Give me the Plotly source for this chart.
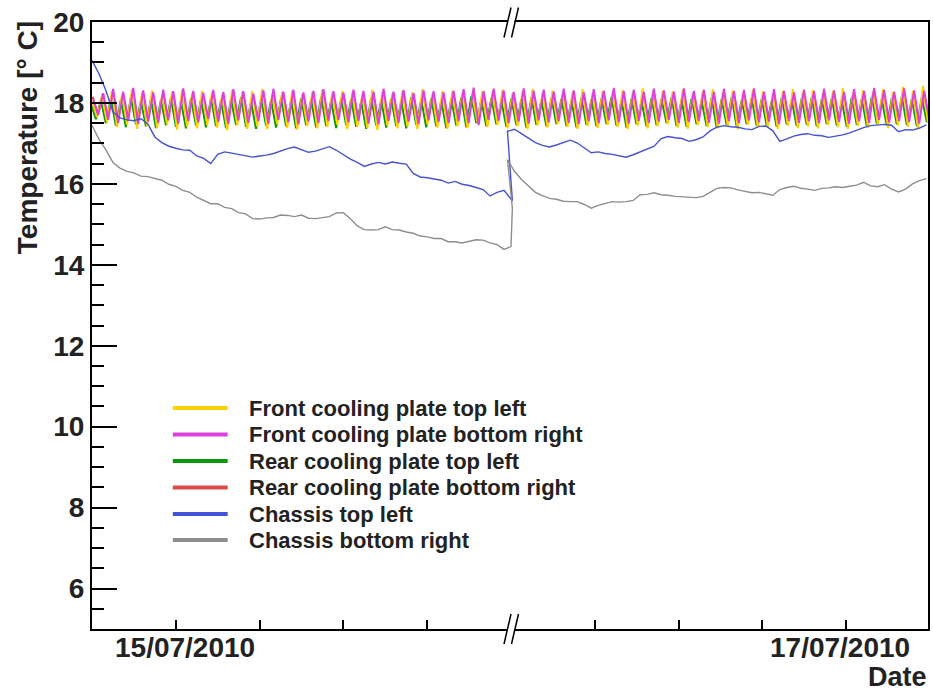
import pandas as pd
import plotly.graph_objects as go

# ---------------------------------------------------------------- data
T0 = pd.Timestamp("2010-07-14 18:00")
T_END = T0 + pd.Timedelta(hours=59.86)

# Cooling plates: one peak and one trough per cooling cycle (84 cycles)
YELLOW_PEAKS = [
    18.05, 18.18, 18.30, 18.22, 18.34, 18.26, 18.31, 18.20, 18.28, 18.33, 18.24, 18.30,
    18.27, 18.21, 18.32, 18.25, 18.29, 18.35, 18.22, 18.28, 18.31, 18.19, 18.27, 18.33,
    18.24, 18.30, 18.26, 18.21, 18.32, 18.28, 18.23, 18.30, 18.26, 18.34, 18.22, 18.29,
    18.31, 18.25, 18.18, 18.30, 18.27, 18.33, 18.24, 18.29, 18.35, 18.26, 18.31, 18.22,
    18.28, 18.34, 18.25, 18.30, 18.23, 18.32, 18.27, 18.36, 18.24, 18.30, 18.28, 18.33,
    18.21, 18.29, 18.34, 18.26, 18.31, 18.24, 18.33, 18.28, 18.22, 18.30, 18.35, 18.27,
    18.32, 18.25, 18.29, 18.36, 18.23, 18.31, 18.27, 18.34, 18.26, 18.40, 18.29, 18.42,
]
YELLOW_TROUGHS = [
    17.65, 17.52, 17.40, 17.46, 17.36, 17.43, 17.38, 17.47, 17.34, 17.41, 17.37, 17.45,
    17.39, 17.33, 17.44, 17.36, 17.42, 17.35, 17.48, 17.38, 17.34, 17.43, 17.37, 17.40,
    17.46, 17.35, 17.41, 17.38, 17.33, 17.44, 17.37, 17.42, 17.35, 17.47, 17.39, 17.36,
    17.43, 17.38, 17.52, 17.40, 17.45, 17.37, 17.42, 17.35, 17.44, 17.39, 17.47, 17.41,
    17.36, 17.43, 17.38, 17.46, 17.40, 17.35, 17.44, 17.37, 17.42, 17.48, 17.39, 17.36,
    17.45, 17.40, 17.37, 17.43, 17.35, 17.46, 17.39, 17.41, 17.36, 17.44, 17.38, 17.42,
    17.37, 17.45, 17.40, 17.36, 17.43, 17.39, 17.46, 17.38, 17.44, 17.41, 17.37, 17.50,
]
MAGENTA_PEAKS = [
    18.10, 18.24, 18.35, 18.28, 18.37, 18.31, 18.26, 18.33, 18.29, 18.36, 18.30, 18.25,
    18.32, 18.27, 18.34, 18.29, 18.23, 18.31, 18.35, 18.28, 18.33, 18.26, 18.30, 18.34,
    18.29, 18.25, 18.33, 18.30, 18.27, 18.35, 18.28, 18.32, 18.24, 18.31, 18.29, 18.26,
    18.30, 18.34, 18.38, 18.29, 18.35, 18.31, 18.27, 18.36, 18.30, 18.33, 18.28, 18.35,
    18.31, 18.26, 18.34, 18.30, 18.37, 18.29, 18.33, 18.27, 18.35, 18.31, 18.28, 18.36,
    18.30, 18.33, 18.27, 18.35, 18.29, 18.32, 18.36, 18.28, 18.34, 18.30, 18.26, 18.33,
    18.29, 18.35, 18.31, 18.27, 18.34, 18.30, 18.37, 18.32, 18.28, 18.36, 18.31, 18.30,
]
MAGENTA_TROUGHS = [
    17.70, 17.58, 17.50, 17.56, 17.48, 17.54, 17.51, 17.57, 17.49, 17.55, 17.52, 17.60,
    17.53, 17.48, 17.57, 17.51, 17.55, 17.49, 17.58, 17.52, 17.47, 17.54, 17.50, 17.56,
    17.58, 17.52, 17.55, 17.49, 17.47, 17.56, 17.51, 17.54, 17.48, 17.57, 17.53, 17.50,
    17.55, 17.50, 17.45, 17.58, 17.56, 17.50, 17.54, 17.49, 17.57, 17.52, 17.55, 17.51,
    17.48, 17.55, 17.50, 17.57, 17.52, 17.49, 17.56, 17.51, 17.54, 17.58, 17.50, 17.53,
    17.56, 17.51, 17.49, 17.55, 17.50, 17.57, 17.52, 17.54, 17.48, 17.56, 17.51, 17.55,
    17.50, 17.57, 17.53, 17.49, 17.55, 17.51, 17.58, 17.52, 17.56, 17.53, 17.49, 17.60,
]
GREEN_PEAKS = [
    17.98, 18.06, 18.12, 18.08, 18.14, 18.05, 18.10, 18.07, 18.13, 18.04, 18.11, 18.08,
    18.12, 18.06, 18.09, 18.14, 18.03, 18.10, 18.07, 18.13, 18.05, 18.11, 18.08, 18.15,
    18.06, 18.12, 18.09, 18.04, 18.13, 18.07, 18.10, 18.05, 18.14, 18.08, 18.11, 18.06,
    18.10, 18.13, 18.16, 18.08, 18.12, 18.05, 18.11, 18.09, 18.14, 18.07, 18.12, 18.10,
    18.06, 18.13, 18.08, 18.11, 18.15, 18.07, 18.10, 18.04, 18.12, 18.09, 18.14, 18.08,
    18.11, 18.06, 18.13, 18.09, 18.15, 18.07, 18.12, 18.10, 18.05, 18.13, 18.08, 18.11,
    18.14, 18.09, 18.12, 18.06, 18.13, 18.10, 18.15, 18.08, 18.12, 18.17, 18.10, 18.14,
]
GREEN_TROUGHS = [
    17.60, 17.50, 17.44, 17.40, 17.47, 17.42, 17.38, 17.45, 17.41, 17.37, 17.44, 17.40,
    17.43, 17.38, 17.46, 17.41, 17.36, 17.44, 17.39, 17.42, 17.37, 17.45, 17.40, 17.43,
    17.38, 17.45, 17.41, 17.36, 17.44, 17.39, 17.43, 17.37, 17.46, 17.40, 17.42, 17.38,
    17.44, 17.40, 17.50, 17.42, 17.47, 17.41, 17.45, 17.39, 17.46, 17.42, 17.48, 17.43,
    17.40, 17.46, 17.42, 17.48, 17.44, 17.39, 17.47, 17.42, 17.45, 17.50, 17.43, 17.41,
    17.47, 17.43, 17.40, 17.46, 17.42, 17.48, 17.44, 17.45, 17.41, 17.47, 17.43, 17.46,
    17.42, 17.48, 17.44, 17.41, 17.46, 17.43, 17.49, 17.44, 17.47, 17.45, 17.42, 17.52,
]
RED_PEAKS = [
    18.15, 18.22, 18.27, 18.20, 18.25, 18.18, 18.24, 18.21, 18.26, 18.19, 18.23, 18.20,
    18.25, 18.19, 18.23, 18.27, 18.18, 18.24, 18.21, 18.26, 18.17, 18.22, 18.20, 18.25,
    18.21, 18.26, 18.19, 18.23, 18.27, 18.20, 18.24, 18.18, 18.25, 18.22, 18.19, 18.24,
    18.22, 18.26, 18.29, 18.21, 18.25, 18.19, 18.24, 18.22, 18.27, 18.20, 18.25, 18.23,
    18.19, 18.26, 18.22, 18.24, 18.28, 18.20, 18.25, 18.18, 18.23, 18.21, 18.27, 18.22,
    18.24, 18.20, 18.26, 18.22, 18.28, 18.21, 18.25, 18.23, 18.19, 18.26, 18.22, 18.24,
    18.27, 18.22, 18.25, 18.20, 18.26, 18.23, 18.28, 18.21, 18.25, 18.30, 18.23, 18.27,
]
RED_TROUGHS = [
    17.70, 17.64, 17.58, 17.62, 17.56, 17.61, 17.59, 17.65, 17.57, 17.63, 17.60, 17.66,
    17.61, 17.57, 17.64, 17.59, 17.62, 17.56, 17.65, 17.60, 17.58, 17.63, 17.57, 17.62,
    17.65, 17.59, 17.62, 17.57, 17.55, 17.63, 17.60, 17.61, 17.56, 17.64, 17.59, 17.58,
    17.62, 17.58, 17.54, 17.65, 17.63, 17.58, 17.61, 17.57, 17.64, 17.60, 17.62, 17.59,
    17.57, 17.63, 17.59, 17.64, 17.60, 17.57, 17.63, 17.59, 17.62, 17.65, 17.58, 17.61,
    17.64, 17.59, 17.57, 17.62, 17.58, 17.64, 17.60, 17.62, 17.56, 17.63, 17.59, 17.62,
    17.58, 17.64, 17.61, 17.57, 17.62, 17.59, 17.65, 17.60, 17.63, 17.61, 17.57, 17.66,
]

# Chassis sensors, half-hourly readings; the first run ends just after 30 h,
# the second run restarts at 29.75 h after the interruption
BLUE_RUN1 = [
    19.05, 18.72, 18.30, 17.78, 17.63, 17.58, 17.56, 17.61, 17.48, 17.16,
    17.02, 16.93, 16.88, 16.84, 16.83, 16.69, 16.63, 16.50, 16.73, 16.79,
    16.76, 16.73, 16.69, 16.66, 16.69, 16.71, 16.75, 16.81, 16.87, 16.91,
    16.84, 16.78, 16.81, 16.87, 16.92, 16.83, 16.71, 16.61, 16.53, 16.43,
    16.49, 16.53, 16.49, 16.54, 16.51, 16.49, 16.26, 16.17, 16.15, 16.12,
    16.09, 16.02, 16.06, 15.99, 15.96, 15.91, 15.86, 15.70, 15.79, 15.84,
    15.62, 15.58,
]
BLUE_RUN2 = [
    17.30, 17.35, 17.24, 17.13, 17.02, 16.95, 16.91, 16.96, 17.03, 17.08,
    17.01, 16.90, 16.77, 16.79, 16.75, 16.73, 16.70, 16.66, 16.72, 16.79,
    16.85, 16.93, 17.12, 17.17, 17.14, 17.12, 17.05, 17.09, 17.16, 17.31,
    17.40, 17.44, 17.41, 17.40, 17.36, 17.34, 17.42, 17.43, 17.31, 17.05,
    17.11, 17.18, 17.22, 17.24, 17.20, 17.19, 17.15, 17.18, 17.21, 17.26,
    17.33, 17.39, 17.44, 17.45, 17.47, 17.45, 17.29, 17.34, 17.33, 17.38,
    17.46,
]
GRAY_RUN1 = [
    17.45, 17.10, 16.84, 16.53, 16.39, 16.31, 16.27, 16.19, 16.18, 16.13,
    16.09, 15.99, 15.94, 15.84, 15.79, 15.67, 15.59, 15.51, 15.51, 15.42,
    15.39, 15.29, 15.26, 15.14, 15.13, 15.16, 15.17, 15.23, 15.22, 15.19,
    15.23, 15.15, 15.14, 15.16, 15.19, 15.28, 15.29, 15.14, 14.96, 14.87,
    14.86, 14.87, 14.94, 14.87, 14.86, 14.81, 14.78, 14.71, 14.69, 14.65,
    14.65, 14.57, 14.57, 14.54, 14.58, 14.62, 14.61, 14.54, 14.50, 14.38,
    14.45, 15.40,
]
GRAY_RUN2 = [
    16.60, 16.31, 16.11, 15.96, 15.79, 15.71, 15.64, 15.62, 15.57, 15.56,
    15.56, 15.49, 15.40, 15.47, 15.51, 15.56, 15.55, 15.56, 15.59, 15.73,
    15.74, 15.78, 15.73, 15.72, 15.69, 15.68, 15.67, 15.66, 15.69, 15.80,
    15.89, 15.91, 15.90, 15.85, 15.81, 15.78, 15.79, 15.75, 15.72, 15.86,
    15.91, 15.94, 15.89, 15.87, 15.84, 15.89, 15.90, 15.93, 15.91, 15.94,
    15.97, 16.04, 15.95, 15.93, 15.98, 15.87, 15.80, 15.87, 16.00, 16.08,
    16.13,
]

SERIES_NAMES = [
    "Front cooling plate top left",
    "Front cooling plate bottom right",
    "Rear cooling plate top left",
    "Rear cooling plate bottom right",
    "Chassis top left",
    "Chassis bottom right",
]
SERIES_COLORS = ["#FFD000", "#DD40DD", "#0A9A0A", "#DC4A48", "#4452D6", "#8E8E8E"]

X_TICKS = ["2010-07-15 00:00", "2010-07-15 06:00", "2010-07-15 12:00", "2010-07-15 18:00",
           "2010-07-16 06:00", "2010-07-16 12:00", "2010-07-16 18:00", "2010-07-17 00:00"]
X_LABELS = {"2010-07-15 00:00": "15/07/2010", "2010-07-17 00:00": "17/07/2010"}

# ---------------------------------------------------------------- time bases
plate_times = pd.date_range(T0, T_END, periods=2 * len(YELLOW_PEAKS))
run1_times = list(pd.date_range(T0, T0 + pd.Timedelta(hours=30), freq="30min")) + \
    [T0 + pd.Timedelta(hours=30.1)]
run2_times = list(pd.date_range(T0 + pd.Timedelta(hours=29.75), periods=len(BLUE_RUN2), freq="30min"))
chassis_times = run1_times + run2_times

# small response lag of each plate sensor relative to the cooling cycle (minutes)
PLATE_LAG = [0, 5, -5, 3]


def zigzag(peaks, troughs):
    out = []
    for p, t in zip(peaks, troughs):
        out += [p, t]
    return out


plate_values = [
    zigzag(YELLOW_PEAKS, YELLOW_TROUGHS),
    zigzag(MAGENTA_PEAKS, MAGENTA_TROUGHS),
    zigzag(GREEN_PEAKS, GREEN_TROUGHS),
    zigzag(RED_PEAKS, RED_TROUGHS),
]

fig = go.Figure()

# plates: red and green underneath, magenta on top
for idx in [3, 2, 0, 1]:
    fig.add_trace(go.Scatter(
        x=plate_times + pd.Timedelta(minutes=PLATE_LAG[idx]), y=plate_values[idx],
        mode="lines", name=SERIES_NAMES[idx],
        line=dict(color=SERIES_COLORS[idx], width=2), showlegend=False,
    ))

for idx, vals in [(4, BLUE_RUN1 + BLUE_RUN2), (5, GRAY_RUN1 + GRAY_RUN2)]:
    fig.add_trace(go.Scatter(
        x=chassis_times, y=vals, mode="lines", name=SERIES_NAMES[idx],
        line=dict(color=SERIES_COLORS[idx], width=1.4), showlegend=False,
    ))

# ---------------------------------------------------------------- layout
W, H = 933, 694
L, R, T, B = 92, 3, 22, 65
PW, PH = W - L - R, H - T - B


def px(xp):
    return (xp - L) / PW


def py(yp):
    return (H - B - yp) / PH


FONT = "Liberation Sans, Arial, Helvetica, sans-serif"
TXT = "#222222"

shapes = []
annotations = []

# legend drawn inside the frame
leg_rows = [408, 434.5, 461, 487.5, 514, 540]
for i, yrow in enumerate(leg_rows):
    shapes.append(dict(type="line", xref="paper", yref="paper",
                       x0=px(173), x1=px(228), y0=py(yrow), y1=py(yrow),
                       line=dict(color=SERIES_COLORS[i], width=4)))
    annotations.append(dict(xref="paper", yref="paper", x=px(247), y=py(yrow),
                            xanchor="left", yanchor="middle", showarrow=False,
                            text=SERIES_NAMES[i],
                            font=dict(family=FONT, size=22, color=TXT, weight="bold")))

# axis break markers "//" on top and bottom frame lines
for yc in [22.5, 629]:
    # white gap in the frame line between the two slashes
    path = "M {},{} L {},{} L {},{} L {},{} Z".format(
        px(507.3), py(yc + 4), px(514.3), py(yc + 4), px(516.2), py(yc - 4), px(509.2), py(yc - 4))
    shapes.append(dict(type="path", xref="paper", yref="paper", path=path,
                       fillcolor="white", line=dict(width=0), layer="above"))
    for x_off in [0, 7.5]:
        shapes.append(dict(type="line", xref="paper", yref="paper",
                           x0=px(505 + x_off), y0=py(yc + 15), x1=px(512 + x_off), y1=py(yc - 15),
                           line=dict(color="black", width=1.5), layer="above"))

# date labels under their ticks
for tick, label in X_LABELS.items():
    annotations.append(dict(xref="x", yref="paper", x=tick, y=py(647),
                            xanchor="center", yanchor="middle", showarrow=False,
                            xshift=9 if label.startswith("15") else -6,
                            text=label,
                            font=dict(family=FONT, size=28, color=TXT, weight="bold")))

annotations.append(dict(xref="paper", yref="paper", x=px(28), y=py(138),
                        xanchor="center", yanchor="middle", textangle=-90, showarrow=False,
                        text="Temperature [° C]",
                        font=dict(family=FONT, size=28, color=TXT, weight="bold")))
annotations.append(dict(xref="paper", yref="paper", x=1.0, y=py(677),
                        xanchor="right", yanchor="middle", showarrow=False,
                        text="Date", borderpad=0,
                        font=dict(family=FONT, size=27, color=TXT, weight="bold")))

fig.update_layout(
    width=W, height=H,
    margin=dict(l=L, r=R, t=T, b=B, pad=0),
    paper_bgcolor="white", plot_bgcolor="white",
    showlegend=False,
    shapes=shapes, annotations=annotations,
    xaxis=dict(
        type="date", range=[T0, T_END],
        tickmode="array", tickvals=X_TICKS, showticklabels=False,
        ticks="inside", ticklen=9, tickwidth=1.5, tickcolor="black",
        showline=True, linewidth=2, linecolor="black", mirror=True,
        showgrid=False, zeroline=False,
    ),
    yaxis=dict(
        range=[5, 20], tick0=0, dtick=2,
        ticks="inside", ticklen=25, tickwidth=1.5, tickcolor="black",
        minor=dict(tick0=0, dtick=0.5, ticks="inside", ticklen=12, tickwidth=1.5, tickcolor="black"),
        showline=True, linewidth=2, linecolor="black", mirror=True,
        showgrid=False, zeroline=False,
        tickfont=dict(family=FONT, size=28, color=TXT, weight="bold"),
    ),
)

fig.write_html("out.html")
